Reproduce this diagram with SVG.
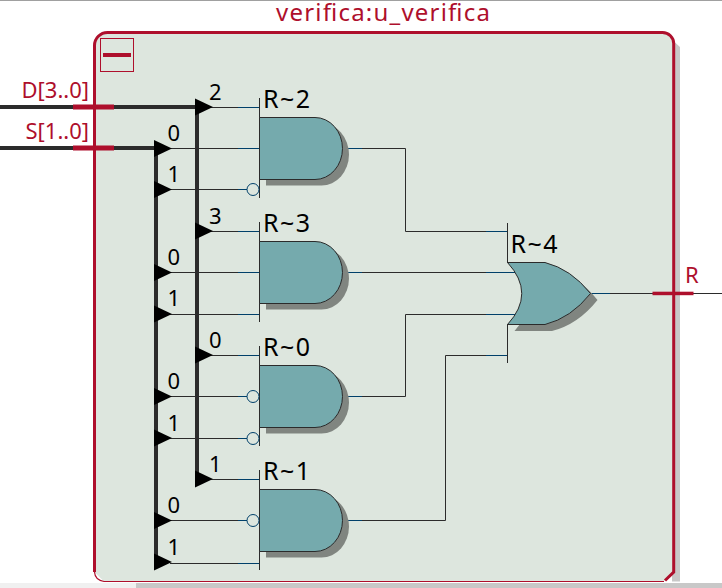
<svg xmlns="http://www.w3.org/2000/svg" width="722" height="588" viewBox="0 0 722 588">
<style>
.w{fill:none;stroke:#2b2b2b;stroke-width:1}
.b{fill:none;stroke:#2b2b2b;stroke-width:4}
.inv{fill:none;stroke:#00406a;stroke-width:1}
.blue{fill:none;stroke:#00406a;stroke-width:1}
.gate{fill:#75aaad;stroke:#2b2b2b;stroke-width:1}
.sh{fill:#808580}
.bar{fill:#ae0f2c}
.red{fill:#ae0f2c;font-family:"Noto Sans","Open Sans",sans-serif}
.blk{fill:#000;font-family:"Noto Sans","Open Sans",sans-serif}
.name{font-size:25px}
</style>
<defs>
<path id="and" d="M259.500 117.500H315A27.500 31 0 0 1 315 179.500H259.500Z"/>
<path id="or" d="M507.500 262.500H545Q571 269 590.500 293.500Q571 318 545 324.500H507.500Q536 293.500 507.500 262.500Z"/>
<polygon id="tip" points="0,-8.500 18,0 0,8.500"/>
</defs>
<rect width="722" height="588" fill="#fff"/>
<rect y="0" width="722" height="1" fill="#a0a0a0"/>
<rect y="583" width="136" height="5" fill="#f0f0f0"/>
<rect x="136" y="583" width="586" height="5" fill="#c8c8c8"/>
<path d="M670 38L680 47V581.500H672V38Z" fill="#c8c8c8"/>
<path d="M94.500 45.500A13 13 0 0 1 107.500 32.500H662.500A11 11 0 0 1 673.500 43.500V572L664 581.500H104L94.500 572Z" fill="#dde6de"/>
<path d="M94.500 572V45.500A13 13 0 0 1 107.500 32.500H662.500A11.200 11 0 0 1 673.700 43.500V572L665 580.500" fill="none" stroke="#ae0f2c" stroke-width="3"/>
<path d="M94.500 572Q95 580 104 581.500H664" fill="none" stroke="#ae0f2c" stroke-width="1.200"/>
<rect x="100.500" y="38.500" width="33" height="33" fill="none" stroke="#ae0f2c"/>
<rect x="103" y="53" width="28" height="4" fill="#ae0f2c"/>
<text class="red" x="276" y="20.500" font-size="24" textLength="214" lengthAdjust="spacing">verifica:u_verifica</text>
<g id="connectors">
<path class="b" d="M0 107H197M0 148H156M197 107V480M156 148V564"/>
<path class="w" d="M210 107.500H238M170 148.500H238M170 189.500H238M210 231.500H238M170 272.500H238M170 314.500H238M210 355.500H238M170 396.500H238M170 438.500H238M210 479.500H238M170 520.500H238M170 563.500H238"/>
<path class="blue" d="M238 107.500H259M238 148.500H259M238 189.500H247M238 231.500H259M238 272.500H259M238 314.500H259M238 355.500H259M238 396.500H247M238 438.500H247M238 479.500H259M238 520.500H247M238 563.500H259"/>
<path class="w" d="M362 148.500H405.500V231.500H486M362 272.500H486M362 396.500H405.500V314.500H486M362 520.500H445.500V355.500H486M610 293.500H722"/>
<path class="blue" d="M342 148.500H362M342 272.500H362M342 396.500H362M342 520.500H362M486 231.500H507M486 272.500H515M486 314.500H516M486 355.500H507M591 293.500H610"/>
<path class="w" d="M259.500 98V198M259.500 222V322M259.500 346V446M259.500 470V570M507.500 223V263M507.500 324V363"/>
</g>
<g id="tips">
<use href="#tip" x="195" y="107"/><use href="#tip" x="154" y="148.500"/><use href="#tip" x="154" y="189.500"/>
<use href="#tip" x="195" y="231"/><use href="#tip" x="154" y="272.500"/><use href="#tip" x="154" y="314"/>
<use href="#tip" x="195" y="355"/><use href="#tip" x="154" y="396.500"/><use href="#tip" x="154" y="438"/>
<use href="#tip" x="195" y="479"/><use href="#tip" x="154" y="520.500"/><use href="#tip" x="154" y="562"/>
</g>
<g id="ports">
<rect class="bar" x="73" y="104.500" width="41" height="5"/>
<rect class="bar" x="73" y="145.500" width="41" height="5"/>
<rect class="bar" x="652.500" y="291.700" width="41" height="3.500"/>
</g>
<g id="R2"><use href="#and" class="sh" x="6.500" y="6"/><use href="#and" class="gate"/><circle class="inv" cx="253" cy="189.500" r="6"/><text class="blk name" x="263" y="108" textLength="47">R~2</text></g>
<g id="R3"><use href="#and" class="sh" x="6.500" y="130"/><use href="#and" class="gate" y="124"/><text class="blk name" x="263" y="232" textLength="47">R~3</text></g>
<g id="R0"><use href="#and" class="sh" x="6.500" y="254"/><use href="#and" class="gate" y="248"/><circle class="inv" cx="253" cy="396.500" r="6"/><circle class="inv" cx="253" cy="438.500" r="6"/><text class="blk name" x="263" y="356" textLength="47">R~0</text></g>
<g id="R1"><use href="#and" class="sh" x="6.500" y="378"/><use href="#and" class="gate" y="372"/><circle class="inv" cx="253" cy="520.500" r="6"/><text class="blk name" x="263" y="480" textLength="47">R~1</text></g>
<g id="R4">
<use href="#or" class="sh" x="7" y="6.500"/>
<use href="#or" class="gate"/>
<text class="blk name" x="510.500" y="252.500" textLength="47">R~4</text>
</g>
<g id="labels">
<text class="red" x="89" y="97.500" font-size="22" text-anchor="end">D[3..0]</text>
<text class="red" x="89" y="139" font-size="22" text-anchor="end">S[1..0]</text>
<text class="red" x="685" y="283" font-size="22">R</text>
<g class="blk" font-size="22">
<text x="209" y="100">2</text><text x="167.500" y="141">0</text><text x="167.500" y="182">1</text>
<text x="209" y="224">3</text><text x="167.500" y="265">0</text><text x="167.500" y="306">1</text>
<text x="209" y="348">0</text><text x="167.500" y="389">0</text><text x="167.500" y="431">1</text>
<text x="209" y="472">1</text><text x="167.500" y="513">0</text><text x="167.500" y="555">1</text>
</g>
</g>
</svg>
